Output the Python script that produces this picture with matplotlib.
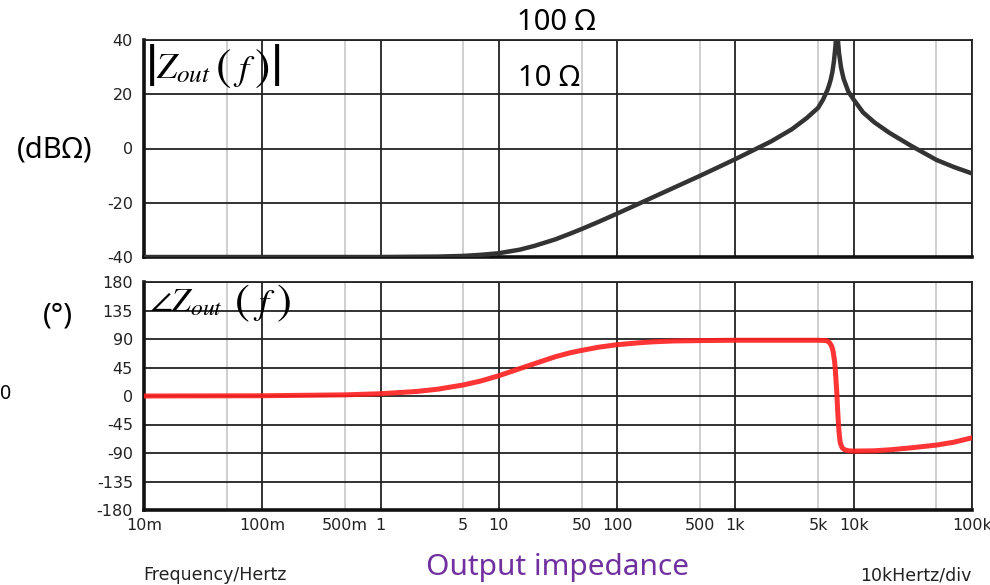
import matplotlib
matplotlib.use('Agg')
from matplotlib import pyplot as plt

plt.rcParams['mathtext.fontset'] = 'stix'
plt.rcParams['font.family'] = ['DejaVu Sans']
plt.rcParams['axes.unicode_minus'] = False

# values
mag_freq = [0.01, 0.1, 0.5, 1, 2, 3, 5, 7, 10, 15, 20, 30, 40, 50, 70, 100, 150,
            200, 300, 500, 700, 1000, 2000, 3000, 4000, 5000, 5500, 6000, 6200,
            6400, 6600, 6800, 7000, 7100, 7200, 7300, 7400, 7500, 7800, 8200,
            9000, 10000, 12000, 15000, 20000, 30000, 50000, 70000, 100000]
mag_db = [-40.0, -40.0, -40.0, -40.0, -39.9, -39.85, -39.6, -39.2, -38.6, -37.3,
          -35.9, -33.5, -31.4, -29.7, -27.0, -24.0, -20.5, -18.0, -14.5, -10.1,
          -7.1, -3.9, 2.6, 7.1, 11.2, 15.0, 18.0, 21.6, 23.4, 25.5, 28.2, 32.0,
          37.5, 41.0, 44.0, 42.0, 38.5, 35.5, 30.0, 25.8, 21.0, 18.0, 13.3, 9.6,
          5.8, 1.2, -4.2, -6.8, -9.2]

phase_freq = [0.01, 0.1, 0.5, 1, 2, 3, 5, 7, 10, 15, 20, 30, 40, 50, 70, 100,
              150, 200, 300, 500, 1000, 2000, 5000, 5900, 6000, 6200, 6300, 6500,
              6600, 6700, 6900, 7000, 7100, 7200, 7300, 7400, 7500, 7600, 7700,
              7800, 8000, 8400, 9000, 10000, 15000, 20000, 30000, 50000, 70000,
              100000]
phase_deg = [0.0, 0.4, 1.8, 3.6, 7.1, 10.6, 17.4, 23.6, 32.0, 43.2, 51.0, 62.0,
             68.2, 72.0, 77.1, 81.0, 83.9, 85.5, 86.9, 87.5, 88.0, 88.0, 88.0,
             87.5, 86.5, 85.0, 83.0, 79.0, 75.0, 70.0, 54.0, 40.0, 22.0, 5.0,
             -20.0, -38.0, -55.0, -66.0, -74.0, -77.0, -82.0, -85.0, -86.5, -87.0,
             -86.5, -85.0, -82.0, -77.5, -73.0, -66.0]

decade_lines = [0.01, 0.1, 1, 10, 100, 1e3, 1e4, 1e5]
half_lines = [0.05, 0.5, 5, 50, 500, 5e3, 5e4]
tick_pos = [0.01, 0.1, 0.5, 1, 5, 10, 50, 100, 500, 1e3, 5e3, 1e4, 1e5]
tick_lab = ['10m', '100m', '500m', '1', '5', '10', '50', '100', '500', '1k',
            '5k', '10k', '100k']
mag_ticks = [-40, -20, 0, 20, 40]
phase_ticks = [-180, -135, -90, -45, 0, 45, 90, 135, 180]

W, H = 990, 585
fig = plt.figure(figsize=(W / 100, H / 100), dpi=100)


def px_rect(x0, y0, x1, y1):
    return [x0 / W, 1 - y1 / H, (x1 - x0) / W, (y1 - y0) / H]


def ptext(x, y, s, **kw):
    # place text by picture pixels, measured from the top-left corner
    return fig.text(x / W, 1 - y / H, s, **kw)


def style_axes(ax, yticks):
    ax.set_xscale('log')
    ax.set_xlim(0.01, 1e5)
    ax.set_ylim(yticks[0], yticks[-1])
    ax.set_yticks(yticks)
    ax.grid(False)
    for y in yticks:
        ax.axhline(y, color='#222222', lw=1.3, zorder=1)
    for x in decade_lines:
        ax.axvline(x, color='#222222', lw=1.3, zorder=1)
    for x in half_lines:
        ax.axvline(x, color='#cccccc', lw=1.3, zorder=0)
    for s in ['top', 'right']:
        ax.spines[s].set_linewidth(1.3)
        ax.spines[s].set_color('#222222')
    for s in ['left', 'bottom']:
        ax.spines[s].set_linewidth(2.6)
        ax.spines[s].set_color('#111111')
    ax.tick_params(axis='both', length=0, labelsize=11.5, labelcolor='#222222')
    ax.tick_params(axis='y', pad=8)
    ax.minorticks_off()


ax1 = fig.add_axes(px_rect(144, 40, 972, 257))
style_axes(ax1, mag_ticks)
ax1.plot(mag_freq, mag_db, color='#333333', lw=3.2, zorder=3)
ax1.set_xticks([])

ax2 = fig.add_axes(px_rect(144, 282, 972, 510))
style_axes(ax2, phase_ticks)
ax2.plot(phase_freq, phase_deg, color='#ff1f1f', lw=3.6, alpha=0.9, zorder=3)
ax2.set_xticks(tick_pos)
ax2.set_xticklabels(tick_lab)
ax2.tick_params(axis='x', pad=6)

# formula labels, built from pieces so the delimiters can be taller than the letters
ptext(145, 69, r'$|$', fontsize=44, ha='left', va='center')
ptext(156, 78, r'$Z_{out}$', fontsize=26, ha='left', va='baseline')
ptext(215, 68, r'$($', fontsize=33, ha='left', va='center')
ptext(233, 80, r'$f$', fontsize=26, ha='left', va='baseline')
ptext(254, 68, r'$)$', fontsize=33, ha='left', va='center')
ptext(270, 69, r'$|$', fontsize=44, ha='left', va='center')

ptext(149, 311, r'$\angle Z_{out}$', fontsize=24, ha='left', va='baseline')
ptext(234, 302, r'$($', fontsize=32, ha='left', va='center')
ptext(253, 314, r'$f$', fontsize=26, ha='left', va='baseline')
ptext(276, 302, r'$)$', fontsize=32, ha='left', va='center')

big = ['Noto Sans', 'DejaVu Sans']
ptext(55, 150, '(dBΩ)', fontsize=21, family=big, ha='center', va='center')
ptext(58, 316, '(°)', fontsize=21, family=big, ha='center', va='center')
ptext(6, 394, '0', fontsize=14, family=big, ha='center', va='center')
ptext(556, 23, '100 Ω', fontsize=21, family=big, ha='center', va='center')
ptext(549, 78, '10 Ω', fontsize=21, family=big, ha='center', va='center')
ptext(558, 567, 'Output impedance', fontsize=21.5, family=big,
      color='#7030a0', ha='center', va='center')
ptext(215, 575, 'Frequency/Hertz', fontsize=12.5, color='#222222',
      ha='center', va='center')
ptext(916, 575, '10kHertz/div', fontsize=12.5, color='#222222',
      ha='center', va='center')

fig.savefig('out.png', dpi=100)
